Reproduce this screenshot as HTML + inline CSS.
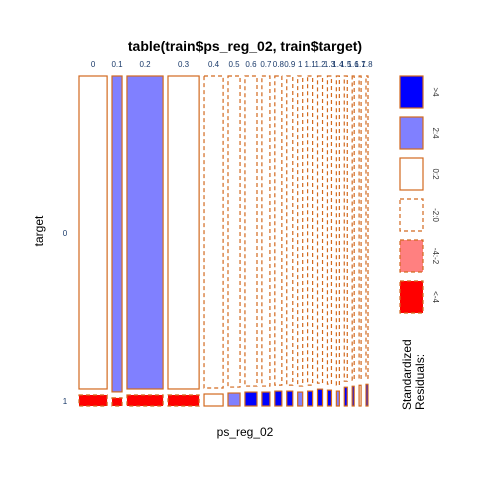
<!DOCTYPE html>
<html><head><meta charset="utf-8"><style>body{margin:0;background:#fff}svg{display:block;font-family:"Liberation Sans",sans-serif}</style></head>
<body>
<svg id="chart" width="480" height="480" viewBox="0 0 480 480">
<text x="245" y="51" text-anchor="middle" font-size="14" font-weight="bold">table(train$ps_reg_02, train$target)</text>
<text x="245" y="436" text-anchor="middle" font-size="12">ps_reg_02</text>
<text transform="translate(43,231) rotate(-90)" text-anchor="middle" font-size="12">target</text>
<text x="65" y="236" text-anchor="middle" font-size="8" fill="#1a3a6a">0</text>
<text x="65" y="404" text-anchor="middle" font-size="8" fill="#1a3a6a">1</text>
<g id="cells"></g>
<g id="legend"></g>
<text transform="translate(411,410) rotate(-90)" font-size="12">Standardized</text>
<text transform="translate(424,410) rotate(-90)" font-size="12">Residuals:</text>
</svg>
<script>
const categories=["0","0.1","0.2","0.3","0.4","0.5","0.6","0.7","0.8","0.9","1","1.1","1.2","1.3","1.4","1.5","1.6","1.7","1.8"];
const counts=[28,10,36,31,19,12,12,8,7,6,5,5,5,4,3,3,2,2,2];
const shareTarget1=[3.4,2.5,3.4,3.4,3.7,4.0,4.3,4.3,4.6,4.6,4.3,4.6,5.2,4.9,4.6,5.8,6.1,6.4,6.7];
const resid0=[0,1,1,0,-1,-1,-1,-1,-1,-1,-1,-1,-1,-1,-1,-1,-1,-1,-1];
const resid1=[-3,-3,-3,-3,0,1,2,2,2,2,1,2,2,2,1,2,2,0,2];
const legendLabels=[">4","2:4","0:2","-2:0","-4:-2","<-4"];
const legendCodes=[2,1,0,-1,-2,-3];
const NS="http://www.w3.org/2000/svg";
const border="#d2691e";
function fillOf(c){return {2:"#0000ff",1:"#8080ff",0:"#ffffff",'-1':"#ffffff",'-2':"#ff8080",'-3':"#ff0000"}[c];}
function dashOf(c){return c<0?"4,3":null;}
const x0=79,x1=368,y0=76,y1=406,vgap=6;
const total=counts.reduce((a,b)=>a+b,0);
const scaleX=(x1-x0-18*4.9)/total;
function rect(g,x,y,w,h,c,name){
  const r=document.createElementNS(NS,"rect");
  r.setAttribute("x",x);r.setAttribute("y",y);r.setAttribute("width",Math.max(w,0.5));r.setAttribute("height",h);
  r.setAttribute("fill",fillOf(c));r.setAttribute("stroke",border);r.setAttribute("stroke-width","1.2");
  if(dashOf(c))r.setAttribute("stroke-dasharray",dashOf(c));
  
  
  g.appendChild(r);
}
const g=document.getElementById("cells");
let cx=x0;
const H=y1-y0-vgap;
categories.forEach((cat,i)=>{
  const w=counts[i]*scaleX;
  const h1=H*shareTarget1[i]/100;
  const h0=H-h1;
  rect(g,cx,y0,w,h0,resid0[i],"cell-"+cat+"-target0");
  rect(g,cx,y0+h0+vgap,w,h1,resid1[i],"cell-"+cat+"-target1");
  const t=document.createElementNS(NS,"text");
  t.setAttribute("x",cx+w/2);t.setAttribute("y",67);t.setAttribute("text-anchor","middle");
  t.setAttribute("font-size","8");t.setAttribute("fill","#1a3a6a");t.textContent=cat;
  
  
  g.appendChild(t);
  cx+=w+4.9;
});
const lg=document.getElementById("legend");
legendLabels.forEach((lab,i)=>{
  const y=76+i*41;
  rect(lg,400,y,23,32,legendCodes[i],"legend-swatch-"+i);
  const t=document.createElementNS(NS,"text");
  t.setAttribute("transform","translate(433,"+(y+16)+") rotate(90)");
  t.setAttribute("text-anchor","middle");t.setAttribute("font-size","8");t.setAttribute("fill","#333");
  t.textContent=lab;
  
  
  lg.appendChild(t);
});
</script>
</body></html>
